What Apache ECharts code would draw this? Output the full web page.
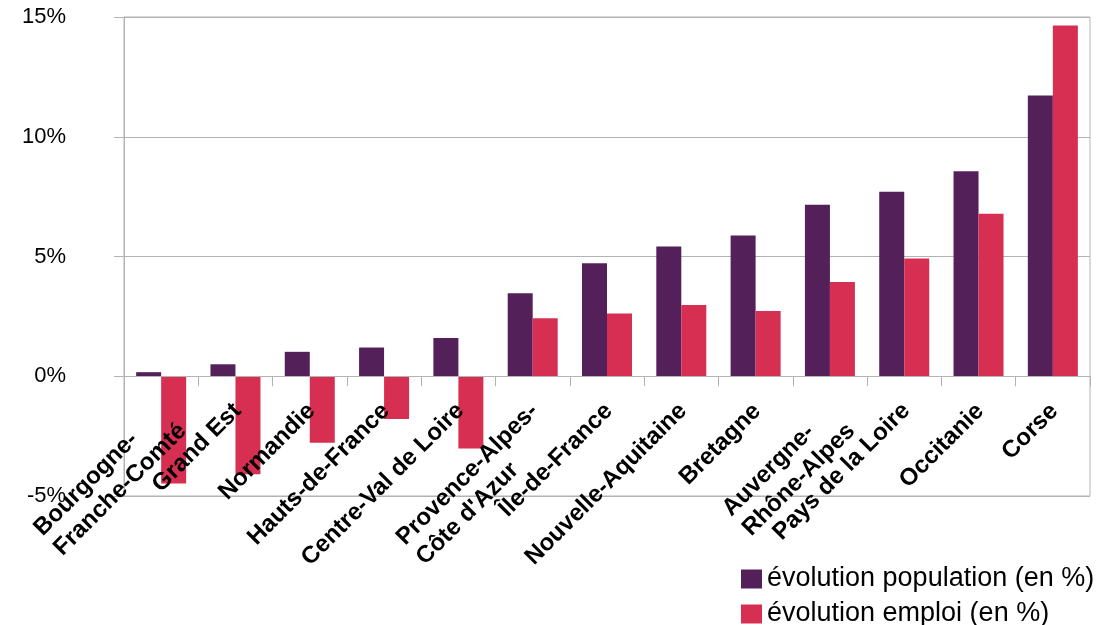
<!DOCTYPE html>
<html><head><meta charset="utf-8">
<script src="https://cdn.jsdelivr.net/npm/echarts@6/dist/echarts.min.js"></script>
<style>html,body{margin:0;padding:0;background:#fff}#c{width:1115px;height:625px}</style>
</head><body><div id="c"></div>
<script>
const categories = ['Bourgogne-\nFranche-Comté','Grand Est','Normandie','Hauts-de-France','Centre-Val de Loire','Provence-Alpes-\nCôte d\'Azur','Île-de-France','Nouvelle-Aquitaine','Bretagne','Auvergne-\nRhône-Alpes','Pays de la Loire','Occitanie','Corse'];
const populationValues = [0.17, 0.50, 1.02, 1.20, 1.60, 3.47, 4.72, 5.42, 5.88, 7.16, 7.70, 8.56, 11.72];
const emploiValues = [-4.48, -4.09, -2.78, -1.78, -3.02, 2.42, 2.62, 2.97, 2.72, 3.94, 4.92, 6.78, 14.65];
const seriesNames = ['évolution population (en %)', 'évolution emploi (en %)'];
const yTicks = {min: -5, max: 15, interval: 5};

const FONT = '"Liberation Sans", Arial, sans-serif';
const LABEL_SIZE = 24;
const LABEL_LH = 28;
const GRID = {left: 124, right: 25, top: 17, bottom: 129};
const PLOT_H = 625 - GRID.top - GRID.bottom;
// pixel distance from plot bottom to the zero line (layout, derived from the axis range)
const zeroOffset = PLOT_H * (0 - yTicks.min) / (yTicks.max - yTicks.min);

const cv = document.createElement('canvas').getContext('2d');
cv.font = 'bold ' + LABEL_SIZE + 'px ' + FONT;
const rich = {};
categories.forEach((c, i) => {
  const w = Math.max(...c.split('\n').map(l => cv.measureText(l).width));
  rich['m' + i] = {width: Math.ceil(w) + 1, align: 'left', fontSize: LABEL_SIZE, fontWeight: 'bold', fontFamily: FONT, color: '#000', lineHeight: LABEL_LH};
});

const chart = echarts.init(document.getElementById('c'));
chart.setOption({
  animation: false,
  textStyle: {fontFamily: FONT},
  grid: Object.assign({containLabel: false, outerBoundsMode: 'none', show: true, borderColor: '#b3b3b3', borderWidth: 1, backgroundColor: 'transparent'}, GRID),
  legend: {
    orient: 'vertical', left: 741, top: 564, height: 90, itemWidth: 21, itemHeight: 19, itemGap: 5, padding: 0,
    icon: 'rect',
    textStyle: {fontSize: 27, color: '#000', fontFamily: FONT, lineHeight: 30},
    data: seriesNames
  },
  xAxis: {
    type: 'category', data: categories, z: 5,
    offset: -zeroOffset,
    axisLine: {onZero: false, lineStyle: {color: '#b3b3b3', width: 1}},
    axisTick: {show: true, length: 10, lineStyle: {color: '#b3b3b3'}},
    axisLabel: {
      interval: 0, rotate: 45, margin: 13, align: 'right', verticalAlign: 'top', padding: [0, 10, 0, 0],
      fontSize: LABEL_SIZE, fontWeight: 'bold', color: '#000', fontFamily: FONT, lineHeight: LABEL_LH,
      formatter: (v, idx) => v.split('\n').map(l => '{m' + idx + '|' + l + '}').join('\n'),
      rich: rich
    },
    splitLine: {show: false}
  },
  yAxis: {
    type: 'value', min: yTicks.min, max: yTicks.max, interval: yTicks.interval,
    axisLine: {show: true, lineStyle: {color: '#b3b3b3'}},
    axisTick: {show: true, length: 10, lineStyle: {color: '#b3b3b3'}},
    axisLabel: {formatter: '{value}%', fontSize: 22, color: '#000', fontFamily: FONT, margin: 58},
    splitLine: {show: true, lineStyle: {color: '#b3b3b3', width: 1}}
  },
  series: [
    {name: seriesNames[0], type: 'bar', data: populationValues, barWidth: 25, barGap: '0%', itemStyle: {color: '#54205a'}},
    {name: seriesNames[1], type: 'bar', data: emploiValues, barWidth: 25, barGap: '0%', itemStyle: {color: '#d62f51'}}
  ]
});
</script></body></html>
